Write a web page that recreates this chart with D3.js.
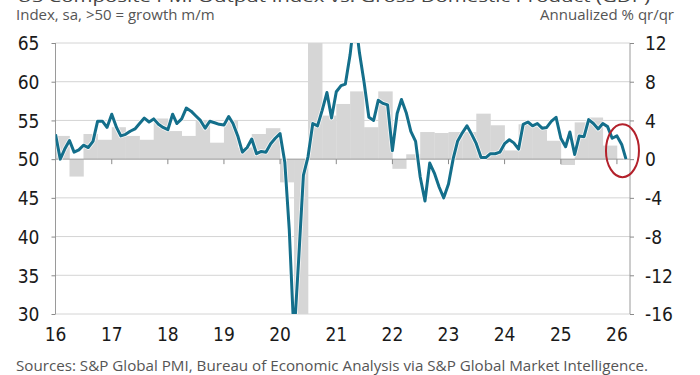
<!DOCTYPE html>
<html>
<head>
<meta charset="utf-8">
<script src="https://cdn.jsdelivr.net/npm/d3@7"></script>
<style>
  html, body { margin: 0; padding: 0; background: #fff; }
  svg { display: block; }
  .tick-lab { font-family: "Liberation Sans Narrow", "DejaVu Sans Condensed", "Liberation Sans", sans-serif; font-size: 19px; fill: #1a1a1a; }
  .note { font-family: "Open Sans", "Noto Sans", sans-serif; font-size: 15px; fill: #555; }
</style>
</head>
<body>
<svg id="chart" width="700" height="375"></svg>
<script>
// ---------- DATA ----------
const titleText = "US Composite PMI Output Index vs. Gross Domestic Product (GDP)";
const leftUnit = "Index, sa, >50 = growth m/m";
const rightUnit = "Annualized % qr/qr";
const sourceText = "Sources: S&P Global PMI, Bureau of Economic Analysis via S&P Global Market Intelligence.";

const yearLabels = ["16","17","18","19","20","21","22","23","24","25","26"];
const leftTicks = [30, 35, 40, 45, 50, 55, 60, 65];
const rightTicks = [-16, -12, -8, -4, 0, 4, 8, 12];

// Monthly composite PMI output index, from Jan 2016
const pmiStart = [2016, 0];
const pmi = [
  53.2, 50.0, 51.3, 52.4, 50.9, 51.2, 51.8, 51.5, 52.3, 54.9, 54.9, 54.1,
  55.8, 54.1, 53.0, 53.2, 53.6, 53.9, 54.6, 55.3, 54.8, 55.2, 54.5, 54.1,
  53.8, 55.8, 54.6, 55.2, 56.6, 56.2, 55.6, 55.0, 54.0, 54.9, 54.7, 54.5,
  54.4, 55.5, 54.6, 53.0, 50.9, 51.5, 52.6, 50.7, 51.0, 50.9, 52.0, 52.7,
  53.3, 49.6, 40.9, 27.0, 37.0, 47.9, 50.3, 54.6, 54.3, 56.3, 58.6, 55.3,
  58.7, 59.5, 59.7, 63.5, 68.7, 63.7, 59.9, 55.4, 55.0, 57.6, 57.2, 57.0,
  51.1, 55.9, 57.7, 56.0, 53.6, 52.3, 47.7, 44.6, 49.5, 48.2, 46.4, 45.0,
  46.8, 50.1, 52.3, 53.4, 54.3, 53.2, 52.0, 50.2, 50.2, 50.7, 50.7, 50.9,
  52.0, 52.5, 52.1, 51.3, 54.5, 54.8, 54.3, 54.6, 54.0, 54.1, 54.9, 55.4,
  52.7, 51.6, 53.5, 50.6, 53.0, 52.9, 55.1, 54.6, 53.9, 54.6, 54.2, 52.7,
  53.0, 51.9, 50.0
];

// Quarterly real GDP, annualized % q/q, from 2016 Q1
const gdpStart = [2016, 0];
const gdp = [
  2.4, -1.8, 2.6, 2.0,
  3.3, 2.4, 2.0, 4.2,
  2.9, 2.4, 4.0, 1.7,
  4.0, 1.2, 2.6, 3.2,
  -2.4, -28.0, 33.0, 4.5,
  5.7, 7.0, 3.3, 7.0,
  -1.0, 0.5, 2.8, 2.7,
  2.8, 2.8, 4.7, 3.5,
  0.9, 3.6, 3.4, 1.9,
  -0.6, 3.8, 4.3, 1.4
];

// ---------- CHART ----------
const svg = d3.select("#chart");
const L = 55.5, R = 630, T = 43, B = 314;

const x = d3.scaleTime()
  .domain([new Date(2016, 0, 1), new Date(2026, 2, 27)])
  .range([L, R]);
const yL = d3.scaleLinear().domain([30, 65]).range([B, T]);
const yR = d3.scaleLinear().domain([-16, 12]).range([B, T]);

const pmiData = pmi.map((v, i) => ({ date: new Date(pmiStart[0], pmiStart[1] + i, 1), v }));
const gdpData = gdp.map((v, i) => ({
  d0: new Date(gdpStart[0], gdpStart[1] + i * 3, 1),
  d1: new Date(gdpStart[0], gdpStart[1] + (i + 1) * 3, 1),
  v
}));

const defs = svg.append("defs");
defs.append("clipPath").attr("id", "plotClip")
  .append("rect").attr("x", L).attr("y", T).attr("width", R - L).attr("height", B - T);

// title (cut off at the top edge, as in the reference)
svg.append("text")
  .attr("x", 17).attr("y", 1.5)
  .attr("textLength", 633).attr("lengthAdjust", "spacingAndGlyphs")
  .style("font-family", "'Open Sans', sans-serif").style("font-size", "15px")
  .style("fill", "#444")
  .text(titleText);

svg.append("text").attr("class", "note").attr("x", 16).attr("y", 20).text(leftUnit);
svg.append("text").attr("class", "note").attr("x", 674).attr("y", 20)
  .attr("text-anchor", "end").text(rightUnit);

// gridlines
svg.append("g").selectAll("line").data(leftTicks).join("line")
  .attr("x1", L).attr("x2", R)
  .attr("y1", d => yL(d)).attr("y2", d => yL(d))
  .attr("stroke", d => d === 50 ? "none" : "#d4d4d4").attr("stroke-width", 1);

// bars
const gBars = svg.append("g").attr("clip-path", "url(#plotClip)");
gBars.selectAll("rect").data(gdpData).join("rect")
  .attr("x", d => x(d.d0))
  .attr("width", d => x(d.d1) - x(d.d0) + 0.3)
  .attr("y", d => yR(Math.max(0, d.v)))
  .attr("height", d => Math.abs(yR(d.v) - yR(0)))
  .attr("fill", "#d6d6d6");

// 50 / zero line
svg.append("line").attr("x1", L).attr("x2", R)
  .attr("y1", yL(50)).attr("y2", yL(50))
  .attr("stroke", "#9a9a9a").attr("stroke-width", 1);

// x ticks on the zero line
const yearDates = yearLabels.map((s, i) => new Date(2016 + i, 0, 1));
svg.append("g").selectAll("line").data(yearDates.slice(1)).join("line")
  .attr("x1", d => x(d)).attr("x2", d => x(d))
  .attr("y1", yL(50)).attr("y2", yL(50) + 5)
  .attr("stroke", "#8a8a8a").attr("stroke-width", 1);

// left & right axes
const axL = svg.append("g").attr("transform", `translate(${L},0)`)
  .call(d3.axisLeft(yL).tickValues(leftTicks).tickSize(4).tickPadding(12));
const axR = svg.append("g").attr("transform", `translate(${R},0)`)
  .call(d3.axisRight(yR).tickValues(rightTicks).tickSize(4).tickPadding(11)
    .tickFormat(d => d < 0 ? "-" + Math.abs(d) : d));
[axL, axR].forEach(a => {
  a.select(".domain").attr("stroke", "#9a9a9a").attr("d", `M0,${T}V${B}`);
  a.selectAll(".tick line").attr("stroke", "#8a8a8a");
  a.selectAll(".tick text").attr("class", "tick-lab").attr("fill", null)
    .attr("dy", "0.36em");
});

// x labels
svg.append("g").selectAll("text").data(yearDates).join("text")
  .attr("class", "tick-lab")
  .attr("x", d => x(d)).attr("y", 341)
  .attr("text-anchor", "middle")
  .text((d, i) => yearLabels[i]);

// PMI line
const line = d3.line().x(d => x(d.date)).y(d => yL(d.v)).curve(d3.curveLinear);
const gLine = svg.append("g").attr("clip-path", "url(#plotClip)");
gLine.append("path").datum(pmiData).attr("d", line)
  .attr("fill", "none").attr("stroke", "#ffffff").attr("stroke-width", 4.6)
  .attr("stroke-linejoin", "round").attr("opacity", 0.8);
gLine.append("path").datum(pmiData).attr("d", line)
  .attr("fill", "none").attr("stroke", "#146f8b").attr("stroke-width", 3)
  .attr("stroke-linejoin", "round");

// red highlight ellipse around the latest readings
const lastDate = pmiData[pmiData.length - 3].date;
const eCx = (x(lastDate) + x(pmiData[pmiData.length - 1].date)) / 2 + 1;
svg.append("ellipse")
  .attr("cx", eCx).attr("cy", yL(51.1))
  .attr("rx", 16.5).attr("ry", 26.5)
  .attr("fill", "none").attr("stroke", "#b3212b").attr("stroke-width", 2);

// source
svg.append("text").attr("class", "note").attr("x", 16).attr("y", 371)
  .attr("textLength", 632).attr("lengthAdjust", "spacingAndGlyphs")
  .text(sourceText);
</script>
</body>
</html>
